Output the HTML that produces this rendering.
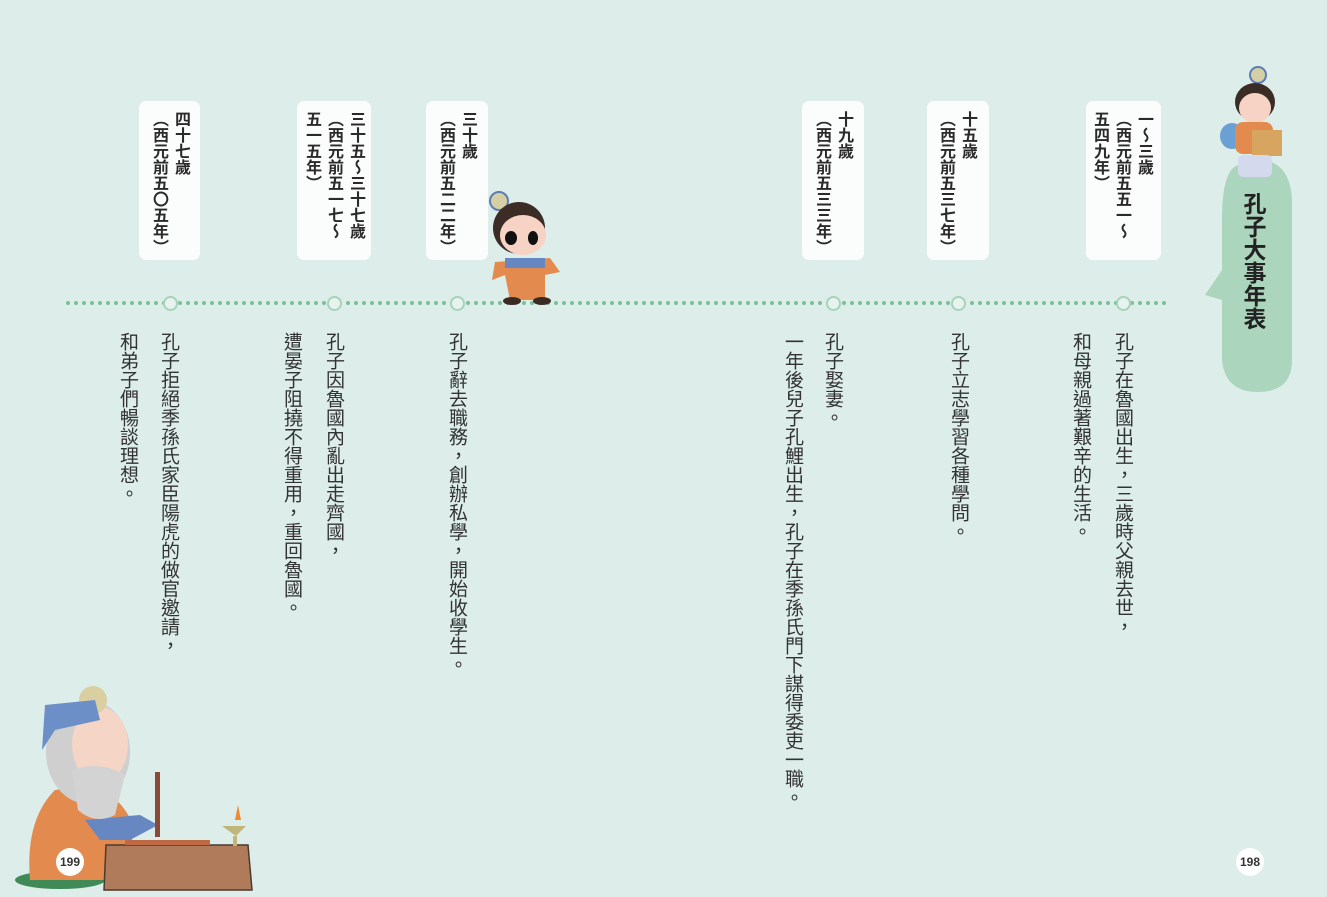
<!DOCTYPE html>
<html><head><meta charset="utf-8"><style>
body{margin:0;width:1327px;height:897px;overflow:hidden;background:#dcedea;position:relative;font-family:"Liberation Sans","Noto Sans CJK TC",sans-serif;}
.card{position:absolute;top:101px;height:159px;background:#fbfdfc;border-radius:7px;}
.v{position:absolute;writing-mode:vertical-rl;white-space:nowrap;line-height:22px;width:22px;}
.c{font-size:16px;font-weight:bold;color:#2a2a2a;top:111px;}
.b{font-size:19px;color:#333;top:332px;line-height:22px;}
.dot{position:absolute;top:296px;width:11px;height:11px;border-radius:50%;background:#e6f3ee;border:2px solid #a8d3bb;}
.pn{position:absolute;width:28px;height:28px;border-radius:50%;background:#fff;font-size:12px;font-weight:bold;text-align:center;line-height:28px;color:#333;}
</style></head><body>
<svg style="position:absolute;left:0;top:0" width="1327" height="897">
<line x1="68" y1="303" x2="1168" y2="303" stroke="#7bbf98" stroke-width="4" stroke-dasharray="0 8" stroke-linecap="round"/>
<path d="M1238 165 Q1222 170 1222 220 L1222 270 L1205 295 L1222 300 L1222 360 Q1225 392 1258 392 Q1292 392 1292 360 L1292 200 Q1290 160 1258 160 Q1245 160 1238 165Z" fill="#acd5bd"/>
<circle cx="1258" cy="75" r="8" fill="#d6cfa6" stroke="#5b7db3" stroke-width="2"/>
<ellipse cx="1255" cy="102" rx="20" ry="19" fill="#3b2c26"/>
<ellipse cx="1255" cy="108" rx="16" ry="15" fill="#f6d3c4"/>
<ellipse cx="1232" cy="136" rx="12" ry="13" fill="#6aa0d4"/>
<rect x="1235" y="122" width="38" height="32" rx="8" fill="#e38a4e"/>
<rect x="1252" y="130" width="30" height="26" fill="#d7a55f"/>
<rect x="1238" y="155" width="34" height="22" rx="5" fill="#d5d9ee"/>
<circle cx="499" cy="201" r="9" fill="#d6cfa6" stroke="#5b7db3" stroke-width="2"/>
<ellipse cx="519" cy="228" rx="26" ry="26" fill="#3b2c26"/>
<ellipse cx="523" cy="235" rx="23" ry="20" fill="#f6d3c4"/>
<ellipse cx="511" cy="238" rx="6" ry="7" fill="#111"/><ellipse cx="533" cy="238" rx="5" ry="7" fill="#111"/>
<path d="M495 262 L550 258 L560 272 L545 275 L545 300 L510 300 L505 275 L492 280Z" fill="#e38a4e"/>
<rect x="505" y="258" width="40" height="10" fill="#6787c3"/>
<ellipse cx="512" cy="301" rx="9" ry="4" fill="#3a2a22"/><ellipse cx="542" cy="301" rx="9" ry="4" fill="#3a2a22"/>
<ellipse cx="60" cy="880" rx="45" ry="9" fill="#3f8a57"/>
<path d="M30 880 Q25 820 55 790 L95 785 Q125 800 135 830 L120 880Z" fill="#e38a4e"/>
<path d="M85 820 L140 815 L158 825 L130 840 L100 840Z" fill="#6787c3"/>
<ellipse cx="88" cy="752" rx="42" ry="52" fill="#cfcfcf"/>
<ellipse cx="100" cy="745" rx="28" ry="38" fill="#f5d5c6"/>
<path d="M72 770 Q100 760 125 775 L115 815 Q95 825 78 810Z" fill="#d3d3d3"/>
<circle cx="93" cy="700" r="14" fill="#d9cfa1"/>
<path d="M45 705 L95 700 L100 720 L55 730 L42 750Z" fill="#6b8fc6"/>
<rect x="155" y="772" width="5" height="65" fill="#8a4a3a"/>
<path d="M106 845 L248 845 L252 890 L104 890Z" fill="#b07b5a" stroke="#4a3a30" stroke-width="1.5"/>
<rect x="125" y="840" width="85" height="5" fill="#c06a45"/>
<path d="M222 826 L246 826 L236 836Z M233 836 h4 v10 h-4z" fill="#c0b57a"/>
<path d="M238 805 L241 820 L235 820Z" fill="#f08a30"/>
</svg>
<div class="card" style="left:139px;width:61px"></div>
<div class="card" style="left:297px;width:74px"></div>
<div class="card" style="left:426px;width:62px"></div>
<div class="card" style="left:802px;width:62px"></div>
<div class="card" style="left:927px;width:62px"></div>
<div class="card" style="left:1086px;width:75px"></div>

<div class="v c" style="left:1132px">一～三歲</div>
<div class="v c" style="left:1110px">（西元前五五一～</div>
<div class="v c" style="left:1088px">五四九年）</div>
<div class="v c" style="left:956px">十五歲</div>
<div class="v c" style="left:934px">（西元前五三七年）</div>
<div class="v c" style="left:832px">十九歲</div>
<div class="v c" style="left:810px">（西元前五三三年）</div>
<div class="v c" style="left:456px">三十歲</div>
<div class="v c" style="left:434px">（西元前五二二年）</div>
<div class="v c" style="left:344px">三十五～三十七歲</div>
<div class="v c" style="left:322px">（西元前五一七～</div>
<div class="v c" style="left:300px">五一五年）</div>
<div class="v c" style="left:169px">四十七歲</div>
<div class="v c" style="left:147px">（西元前五〇五年）</div>

<div class="dot" style="left:163px"></div>
<div class="dot" style="left:327px"></div>
<div class="dot" style="left:450px"></div>
<div class="dot" style="left:826px"></div>
<div class="dot" style="left:951px"></div>
<div class="dot" style="left:1116px"></div>

<div class="v b" style="left:1111px">孔子在魯國出生，三歲時父親去世，</div>
<div class="v b" style="left:1069px">和母親過著艱辛的生活。</div>
<div class="v b" style="left:947px">孔子立志學習各種學問。</div>
<div class="v b" style="left:821px">孔子娶妻。</div>
<div class="v b" style="left:781px">一年後兒子孔鯉出生，孔子在季孫氏門下謀得委吏一職。</div>
<div class="v b" style="left:445px">孔子辭去職務，創辦私學，開始收學生。</div>
<div class="v b" style="left:322px">孔子因魯國內亂出走齊國，</div>
<div class="v b" style="left:280px">遭晏子阻撓不得重用，重回魯國。</div>
<div class="v b" style="left:157px">孔子拒絕季孫氏家臣陽虎的做官邀請，</div>
<div class="v b" style="left:116px">和弟子們暢談理想。</div>

<div class="v" style="left:1241px;top:192px;font-size:23px;font-weight:bold;line-height:24px;width:24px;color:#222">孔子大事年表</div>
<div class="pn" style="left:56px;top:848px">199</div>
<div class="pn" style="left:1236px;top:848px">198</div>
</body></html>
